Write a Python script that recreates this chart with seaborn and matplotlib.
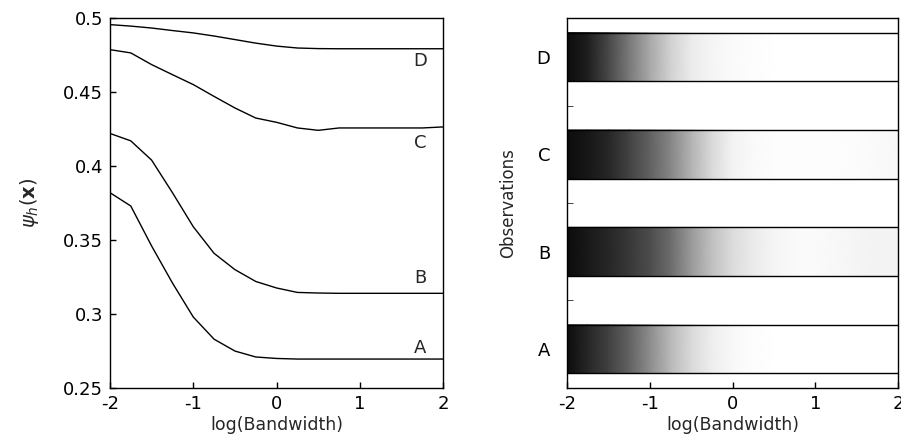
import numpy as np
import pandas as pd
import seaborn as sns
import matplotlib
matplotlib.use("Agg")
import matplotlib.pyplot as plt

# log(bandwidth) grid the values were read at
log_bw = [-2, -1.75, -1.5, -1.25, -1, -0.75, -0.5, -0.25, 0,
          0.25, 0.5, 0.75, 1, 1.25, 1.5, 1.75, 2]

# left panel: psi_h(x) for each observation
psi_A = [0.382, 0.373, 0.346, 0.321, 0.298, 0.283, 0.275, 0.271, 0.270,
         0.2696, 0.2696, 0.2696, 0.2696, 0.2696, 0.2696, 0.2696, 0.2696]
psi_B = [0.422, 0.417, 0.404, 0.382, 0.359, 0.341, 0.330, 0.322, 0.3176,
         0.3146, 0.3142, 0.314, 0.314, 0.314, 0.314, 0.314, 0.314]
psi_C = [0.4786, 0.4764, 0.4685, 0.4617, 0.455, 0.447, 0.4392, 0.4324, 0.4295,
         0.4257, 0.4241, 0.4257, 0.4257, 0.4257, 0.4257, 0.4257, 0.4264]
psi_D = [0.4955, 0.4945, 0.4932, 0.4915, 0.4899, 0.4878, 0.4854, 0.483, 0.481,
         0.4797, 0.4793, 0.4792, 0.4792, 0.4792, 0.4792, 0.4792, 0.4792]

# right panel: grey level (0 black, 1 white) along log(bandwidth)
shade_A = [0.05, 0.15, 0.25, 0.38, 0.55, 0.72, 0.85, 0.93, 0.97,
           0.99, 1.0, 1.0, 1.0, 1.0, 1.0, 1.0, 1.0]
shade_B = [0.05, 0.10, 0.15, 0.22, 0.30, 0.42, 0.60, 0.75, 0.86,
           0.92, 0.96, 0.98, 0.98, 0.97, 0.96, 0.95, 0.95]
shade_C = [0.05, 0.09, 0.15, 0.26, 0.38, 0.52, 0.70, 0.85, 0.95,
           0.98, 0.99, 0.99, 0.99, 0.99, 0.985, 0.98, 0.97]
shade_D = [0.05, 0.12, 0.28, 0.47, 0.66, 0.82, 0.92, 0.96, 0.98,
           0.99, 1.0, 1.0, 1.0, 1.0, 1.0, 1.0, 1.0]

obs_names = ["A", "B", "C", "D"]
label_pos = [0.277, 0.3243, 0.4155, 0.4707]

sns.set_style("ticks")
plt.rcParams['font.family'] = ['DejaVu Sans']
plt.rcParams['mathtext.fontset'] = 'dejavusans'
plt.rcParams['font.size'] = 12.5

fig = plt.figure(figsize=(9.01, 4.38), dpi=100)
ax1 = fig.add_axes([0.122, 0.114, 0.370, 0.845])
ax2 = fig.add_axes([0.629, 0.114, 0.368, 0.845])

psi = [psi_A, psi_B, psi_C, psi_D]
for name, vals, ly in zip(obs_names, psi, label_pos):
    sns.lineplot(x=log_bw, y=vals, color="black", lw=1.0, ax=ax1)
    ax1.text(1.72, ly, name, ha="center", va="center", fontsize=13)

ax1.set_xlim(-2, 2)
ax1.set_ylim(0.25, 0.5)
ax1.set_xticks([-2, -1, 0, 1, 2])
ax1.set_xticklabels(["-2", "-1", "0", "1", "2"])
ax1.set_yticks([0.25, 0.3, 0.35, 0.4, 0.45, 0.5])
ax1.set_yticklabels(["0.25", "0.3", "0.35", "0.4", "0.45", "0.5"])
ax1.set_xlabel("log(Bandwidth)", labelpad=2)
ax1.set_ylabel(r"$\psi_h(\mathbf{x})$", labelpad=16, fontsize=14)

shades = [shade_A, shade_B, shade_C, shade_D]
half = 0.25
for i, vals in enumerate(shades):
    yc = i + 1
    X, Y = np.meshgrid(log_bw, [yc - half, yc + half])
    C = np.vstack([vals, vals])
    ax2.pcolormesh(X, Y, C, shading="gouraud", cmap="gray", vmin=0, vmax=1)
    ax2.axhline(yc - half, color="black", lw=1.0)
    ax2.axhline(yc + half, color="black", lw=1.0)

ax2.set_xlim(-2, 2)
ax2.set_ylim(0.6, 4.4)
ax2.set_xticks([-2, -1, 0, 1, 2])
ax2.set_xticklabels(["-2", "-1", "0", "1", "2"])
ax2.set_yticks([1, 2, 3, 4])
ax2.set_yticklabels(obs_names)
ax2.set_yticks([1.5, 2.5, 3.5], minor=True)
ax2.tick_params(axis="y", which="minor", direction="in", length=4)
ax2.set_xlabel("log(Bandwidth)", labelpad=2)
ax2.set_ylabel("Observations", labelpad=14, fontsize=12)

for ax in (ax1, ax2):
    ax.tick_params(axis="both", which="major", direction="in", length=4,
                   width=1, labelsize=13, colors="black", pad=5)
    for sp in ax.spines.values():
        sp.set_linewidth(1.0)
        sp.set_color("black")
ax2.tick_params(axis="y", which="major", length=0, pad=12)

fig.savefig("out.png", dpi=100, facecolor="white")
